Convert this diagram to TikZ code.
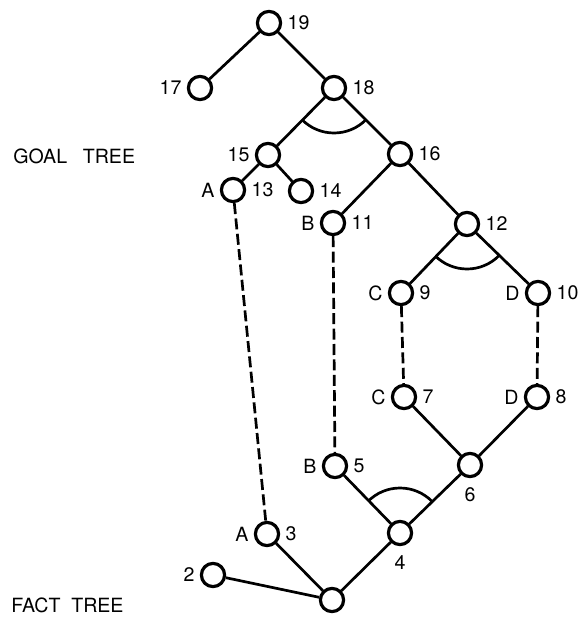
\documentclass[tikz,border=0pt]{standalone}
\usepackage{fontspec}
\setmainfont{TeX Gyre Heros}
\tikzset{>=stealth}
\colorlet{background}{white}
\colorlet{penColor}{black}
\tikzset{
  vertex/.style={circle,draw=penColor,line width=1.6pt,minimum size=11.6pt,inner sep=0pt},
  treeLink/.style={penColor,line width=1.35pt},
  matchLink/.style={penColor,line width=1.35pt,dash pattern=on 5.5pt off 2.2pt},
  treeText/.style={font=\fontsize{9.8}{12}\selectfont,inner sep=0pt,text=penColor},
}
% AND arc in the wedge between two branches
\newcommand{\andArc}[3]{%
  \begin{scope}
    \clip (#1.center) -- (#2.center) -- (#3.center) -- cycle;
    \draw[treeLink] (#1.center) circle (22.5pt);
  \end{scope}}

\begin{document}
\begin{tikzpicture}[x=0.5pt,y=-0.5pt,every label/.style={treeText},label distance=2.5pt]
\useasboundingbox (0,0) rectangle (584,621);
% goal tree
\node[vertex,label=right:19] (n19) at (269,23) {};
\node[vertex,label=left:17] (n17) at (200,88) {};
\node[vertex,label=right:18] (n18) at (334,88) {};
\node[vertex,label=left:15] (n15) at (268,155) {};
\node[vertex,label=right:16] (n16) at (400,154) {};
\node[vertex,label=left:A,label=right:13] (n13) at (233,190) {};
\node[vertex,label=right:14] (n14) at (301,191) {};
\node[vertex,label=left:B,label=right:11] (n11) at (333,223) {};
\node[vertex,label=right:12] (n12) at (467,224) {};
\node[vertex,label=left:C,label=right:9] (n9) at (401,293) {};
\node[vertex,label=left:D,label=right:10] (n10) at (538,293) {};
% fact tree
\node[vertex,label=left:C,label=right:7] (n7) at (404,397) {};
\node[vertex,label=left:D,label=right:8] (n8) at (537,397) {};
\node[vertex,label=left:B,label=right:5] (n5) at (335,466) {};
\node[vertex,label={[label distance=4.5pt]below:6}] (n6) at (470,465) {};
\node[vertex,label=left:A,label=right:3] (n3) at (267,534) {};
\node[vertex,label={[label distance=4.5pt]below:4}] (n4) at (400,533) {};
\node[vertex,label=left:2] (n2) at (213,575) {};
\node[vertex] (n1) at (332,600) {};
\node[treeText,anchor=west] (goalTitle) at (13,156) {GOAL\hspace{0.8em}TREE};
\node[treeText,anchor=west] (factTitle) at (11,605) {FACT\hspace{0.55em}TREE};
% branches
\draw[treeLink] (n19) -- (n17);
\draw[treeLink] (n19) -- (n18);
\draw[treeLink] (n18) -- (n15);
\draw[treeLink] (n18) -- (n16);
\draw[treeLink] (n15) -- (n13);
\draw[treeLink] (n15) -- (n14);
\draw[treeLink] (n16) -- (n11);
\draw[treeLink] (n16) -- (n12);
\draw[treeLink] (n12) -- (n9);
\draw[treeLink] (n12) -- (n10);
\draw[treeLink] (n7) -- (n6);
\draw[treeLink] (n8) -- (n6);
\draw[treeLink] (n5) -- (n4);
\draw[treeLink] (n6) -- (n4);
\draw[treeLink] (n4) -- (n1);
\draw[treeLink] (n3) -- (n1);
\draw[treeLink] (n2) -- (n1);
\andArc{n18}{n15}{n16}
\andArc{n12}{n9}{n10}
\andArc{n4}{n5}{n6}
% matches between the trees
\draw[matchLink] (n13) -- (n3);
\draw[matchLink] (n11) -- (n5);
\draw[matchLink] (n9) -- (n7);
\draw[matchLink] (n10) -- (n8);
\end{tikzpicture}
\end{document}
